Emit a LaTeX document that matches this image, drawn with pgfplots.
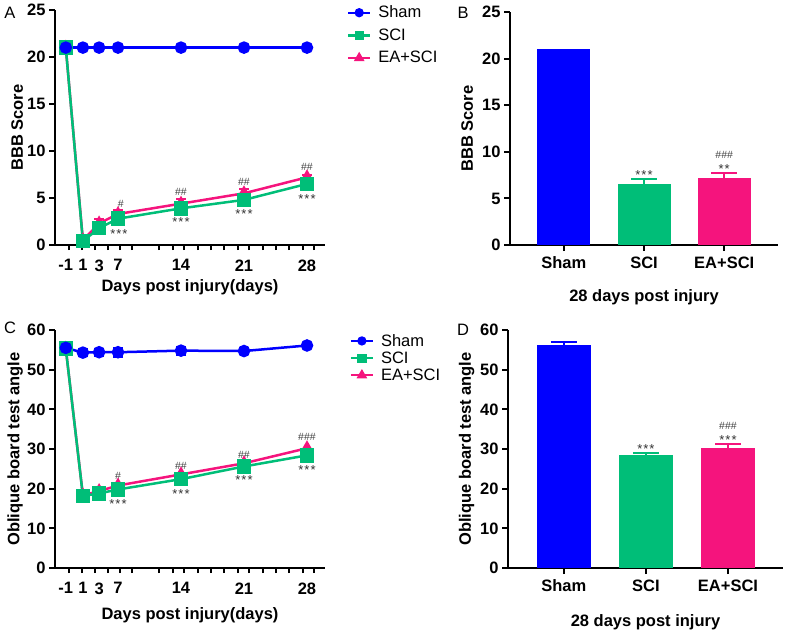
\documentclass[border=0pt]{standalone}
\usepackage{fontspec}
\setmainfont{Liberation Sans}
\usepackage{pgfplots}
\pgfplotsset{compat=1.18}
\definecolor{shamc}{RGB}{0,0,255}
\definecolor{scic}{RGB}{0,190,120}
\definecolor{eac}{RGB}{245,20,125}
\newcommand{\bigf}{\fontsize{16.5}{19}\selectfont}
\newcommand{\ann}{\fontsize{10.5}{12}\selectfont}
\newcommand{\starf}{\fontsize{13}{14}\selectfont}
\newcommand{\stars}{*\kern1pt*\kern1pt*}
\tikzset{st/.style={font=\starf, black!80, yshift=-3pt}}
\pgfplotsset{
  panel/.style={
    scale only axis, clip=false,
    axis x line*=bottom, axis y line*=left,
    axis line style={line width=2.4pt},
    tick style={line width=2pt, black},
    tick align=outside,
    major tick length=6pt, minor tick length=5pt,
    tick label style={font=\bigf\bfseries},
    label style={font=\bigf\bfseries},
    /pgf/number format/assume math mode=true,
    legend image code/.code={\draw[mark repeat=2,mark phase=2,#1] plot coordinates {(0pt,0pt)(11pt,0pt)(22pt,0pt)};},
  },
  linepanel/.style={
    panel,
    xmin=0, xmax=30,
    xtick={1.2,3.1,4.9,7,14,21,28},
    xticklabels={-1,1,3,7,14,21,28},
    major x tick style={draw=none},
    xticklabel style={yshift=-5pt},
    minor xtick={1.6,3.0,4.4,5.9,7.2,8.6,11.6,13.1,14.3,15.9,17.3,18.8,20.3,21.6,23.1,24.6,26.0,27.5,28.8},
    minor x tick style={line width=2pt, black},
    xlabel={Days post injury(days)},
  },
  barpanel/.style={
    panel,
    xmin=-0.67, xmax=2.67,
    xtick={0,1,2}, xticklabels={Sham,SCI,EA+SCI},
    xticklabel style={yshift=-2pt},
    ybar, bar shift=0pt,
  },
  sham/.style={shamc, line width=2.5pt, mark=*, mark size=5pt, mark options={solid, fill=shamc}},
  sci/.style={scic, line width=2.5pt, mark=square*, mark size=6pt, mark options={solid, fill=scic}},
  ea/.style={eac, line width=2.5pt, mark=triangle*, mark size=5.5pt, mark options={solid, fill=eac}},
  errs/.style={error bars/y dir=#1, error bars/y explicit,
     error bars/error bar style={line width=2pt},
     error bars/error mark options={rotate=90, mark size=5pt, line width=2pt}},
  berrs/.style={error bars/y dir=plus, error bars/y explicit,
     error bars/error bar style={line width=2.2pt, #1},
     error bars/error mark options={rotate=90, mark size=13pt, line width=2.2pt, #1}},
}
\begin{document}
\begin{tikzpicture}
\path[use as bounding box] (0,-635pt) rectangle (790pt,0);

% ---------------- Panel A ----------------
\begin{axis}[linepanel,
  at={(55pt,-245pt)}, anchor=south west,
  width=270pt, height=235pt,
  ymin=0, ymax=25, ytick={0,5,10,15,20,25},
  xlabel style={at={(axis description cs:0.5,-0.18)}, anchor=center},
  ylabel={BBB Score},
  ylabel style={at={(axis description cs:-0.14,0.5)}, anchor=center},
  legend style={at={(axis description cs:1.07,1.035)}, anchor=north west, draw=none, fill=none,
    font=\bigf, row sep=5.5pt, legend cell align=left},
]
\addlegendimage{shamc, line width=2.2pt, mark=*, mark size=3.5pt}
\addlegendentry{\kern5pt Sham}
\addlegendimage{scic, line width=2.2pt, mark=square*, mark size=3.5pt}
\addlegendentry{\kern5pt SCI}
\addlegendimage{eac, line width=2.2pt, mark=triangle*, mark size=4pt}
\addlegendentry{\kern5pt EA+SCI}
\addplot[ea, forget plot, errs=plus] coordinates {
 (1.2,21) +- (0,0) (3.1,0.5) +- (0,0.3) (4.9,2.3) +- (0,0.5) (7,3.3) +- (0,0.45)
 (14,4.4) +- (0,0.45) (21,5.5) +- (0,0.5) (28,7.2) +- (0,0.25)};
\addplot[sci, forget plot] coordinates {
 (1.2,21) (3.1,0.4) (4.9,1.8) (7,2.8) (14,3.9) (21,4.8) (28,6.5)};
\addplot[sham, forget plot] coordinates {
 (1.2,21) (3.1,21) (4.9,21) (7,21) (14,21) (21,21) (28,21)};
\node[font=\ann, black!75] at (axis cs:7.3,4.4) {\#};
\node[font=\ann, black!75] at (axis cs:14,5.6) {\#\#};
\node[font=\ann, black!75] at (axis cs:21,6.7) {\#\#};
\node[font=\ann, black!75] at (axis cs:28,8.3) {\#\#};
\node[st] at (axis cs:7.1,1.5) {\stars};
\node[st] at (axis cs:14,2.75) {\stars};
\node[st] at (axis cs:21,3.65) {\stars};
\node[st] at (axis cs:28,5.2) {\stars};
\end{axis}
\node[font=\bigf] at (10pt,-13pt) {A};

% ---------------- Panel B ----------------
\begin{axis}[barpanel,
  at={(510pt,-245pt)}, anchor=south west,
  width=268pt, height=233pt,
  ymin=0, ymax=25, ytick={0,5,10,15,20,25},
  bar width=53pt,
  xlabel={28 days post injury},
  xlabel style={at={(axis description cs:0.5,-0.225)}, anchor=center},
  ylabel={BBB Score},
  ylabel style={at={(axis description cs:-0.16,0.5)}, anchor=center},
]
\addplot[fill=shamc, draw=none] coordinates {(0,21)};
\addplot[fill=scic, draw=none, berrs=scic] coordinates {(1,6.5) +- (0,0.6)};
\addplot[fill=eac, draw=none, berrs=eac] coordinates {(2,7.2) +- (0,0.5)};
\node[st] at (axis cs:1,7.85) {\stars};
\node[st] at (axis cs:2,8.5) {*\kern1pt*};
\node[font=\ann, black!75] at (axis cs:2,9.7) {\#\#\#};
\end{axis}
\node[font=\bigf] at (463pt,-13pt) {B};

% ---------------- Panel C ----------------
\begin{axis}[linepanel,
  at={(55pt,-568pt)}, anchor=south west,
  width=270pt, height=238pt,
  ymin=0, ymax=60, ytick={0,10,20,30,40,50,60},
  xlabel style={at={(axis description cs:0.5,-0.197)}, anchor=center},
  ylabel={Oblique board test angle},
  ylabel style={at={(axis description cs:-0.148,0.5)}, anchor=center},
  legend style={at={(axis description cs:1.08,1.0)}, anchor=north west, draw=none, fill=none,
    font=\bigf, row sep=0pt, legend cell align=left},
]
\addlegendimage{shamc, line width=2.2pt, mark=*, mark size=3.5pt}
\addlegendentry{\kern5pt Sham}
\addlegendimage{scic, line width=2.2pt, mark=square*, mark size=3.5pt}
\addlegendentry{\kern5pt SCI}
\addlegendimage{eac, line width=2.2pt, mark=triangle*, mark size=4pt}
\addlegendentry{\kern5pt EA+SCI}
\addplot[ea, forget plot] coordinates {
 (1.2,55.3) (3.1,18.3) (4.9,19.4) (7,20.8) (14,23.6) (21,26.4) (28,30.2)};
\addplot[sci, forget plot] coordinates {
 (1.2,55.3) (3.1,18.2) (4.9,18.8) (7,19.8) (14,22.4) (21,25.6) (28,28.4)};
\addplot[sham, forget plot, errs=both] coordinates {
 (1.2,55.5) +- (0,1.3) (3.1,54.3) +- (0,0.8) (4.9,54.4) +- (0,0.9) (7,54.4) +- (0,1.1)
 (14,54.8) +- (0,1.0) (21,54.7) +- (0,0.4) (28,56.1) +- (0,0.3)};
\node[font=\ann, black!75] at (axis cs:7,23.1) {\#};
\node[font=\ann, black!75] at (axis cs:14,25.8) {\#\#};
\node[font=\ann, black!75] at (axis cs:21,28.5) {\#\#};
\node[font=\ann, black!75] at (axis cs:28,33.1) {\#\#\#};
\node[st] at (axis cs:7,16.9) {\stars};
\node[st] at (axis cs:14,19.5) {\stars};
\node[st] at (axis cs:21,22.9) {\stars};
\node[st] at (axis cs:28,25.4) {\stars};
\end{axis}
\node[font=\bigf] at (10pt,-328pt) {C};

% ---------------- Panel D ----------------
\begin{axis}[barpanel,
  at={(508pt,-568pt)}, anchor=south west,
  width=275pt, height=238pt,
  ymin=0, ymax=60, ytick={0,10,20,30,40,50,60},
  xmin=-0.68, xmax=2.67,
  bar width=54pt,
  xlabel={28 days post injury},
  xlabel style={at={(axis description cs:0.5,-0.227)}, anchor=center},
  ylabel={Oblique board test angle},
  ylabel style={at={(axis description cs:-0.15,0.5)}, anchor=center},
]
\addplot[fill=shamc, draw=none, berrs=shamc] coordinates {(0,56.2) +- (0,0.8)};
\addplot[fill=scic, draw=none, berrs=scic] coordinates {(1,28.4) +- (0,0.6)};
\addplot[fill=eac, draw=none, berrs=eac] coordinates {(2,30.2) +- (0,1.1)};
\node[st] at (axis cs:1,30.7) {\stars};
\node[st] at (axis cs:2,33.1) {\stars};
\node[font=\ann, black!75] at (axis cs:2,35.9) {\#\#\#};
\end{axis}
\node[font=\bigf] at (463pt,-330pt) {D};
\end{tikzpicture}
\end{document}
